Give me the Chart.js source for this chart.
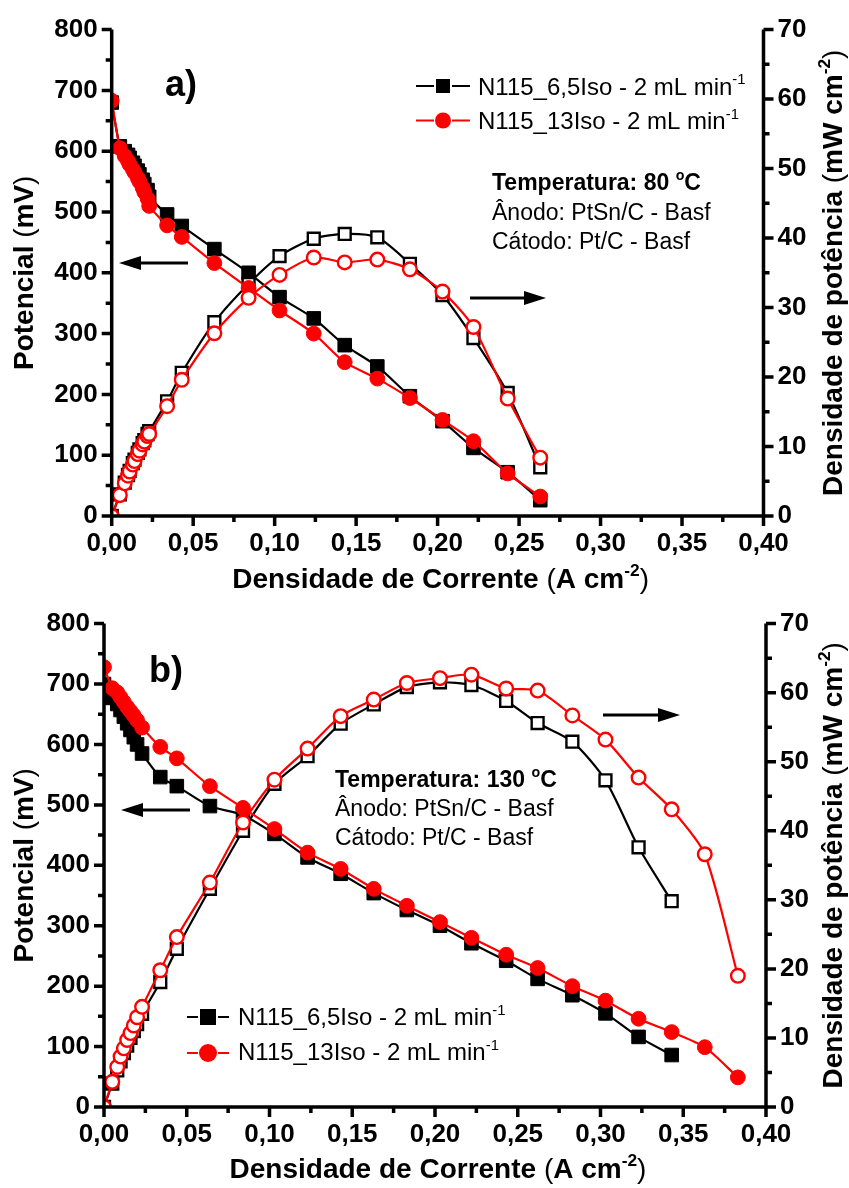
<!DOCTYPE html>
<html><head><meta charset="utf-8">
<script src="https://cdn.jsdelivr.net/npm/chart.js@4.4.1/dist/chart.umd.min.js"></script>
<style>
html,body{margin:0;padding:0;background:#fff;}
#wrap{position:relative;width:849px;height:1188px;overflow:hidden;}
.pane{position:absolute;left:0;width:849px;height:594px;}
</style></head><body>
<div id="wrap">
<div class="pane" style="top:0"><canvas id="ca" width="849" height="594"></canvas></div>
<div class="pane" style="top:594px"><canvas id="cb" width="849" height="594"></canvas></div>
</div>
<script>
// ---------- Panel a) 80 °C ----------
const currentA = [0, 0.005, 0.008, 0.010, 0.011, 0.013, 0.014, 0.016, 0.017, 0.019, 0.020, 0.022, 0.023,
  0.034, 0.043, 0.063, 0.084, 0.103, 0.124, 0.143, 0.163, 0.183, 0.203, 0.222, 0.243, 0.263];
const potA_6 = [680, 608, 600, 594, 589, 581, 576, 568, 562, 553, 546, 536, 525,
  496, 477, 439, 400, 360, 325, 281, 246, 197, 156, 112, 72, 26];
const powA_6 = [0, 3.1, 4.8, 5.9, 6.5, 7.6, 8.1, 9.1, 9.6, 10.5, 10.9, 11.8, 12.2,
  16.5, 20.6, 27.9, 33.4, 37.4, 39.9, 40.6, 40.1, 36.3, 31.8, 25.6, 17.7, 7.0];
const potA_13 = [683, 605, 592, 584, 578, 570, 565, 556, 550, 540, 533, 522, 510,
  478, 459, 416, 375, 338, 300, 253, 226, 194, 158, 123, 70, 32];
const powA_13 = [0, 3.0, 4.7, 5.8, 6.4, 7.4, 7.9, 8.9, 9.4, 10.3, 10.7, 11.5, 11.8,
  15.8, 19.6, 26.3, 31.4, 34.7, 37.2, 36.5, 36.9, 35.5, 32.3, 27.2, 16.9, 8.4];

// ---------- Panel b) 130 °C ----------
const currentB = [0, 0.005, 0.008, 0.010, 0.012, 0.014, 0.016, 0.018, 0.020, 0.023,
  0.034, 0.044, 0.064, 0.084, 0.103, 0.123, 0.143, 0.163, 0.183, 0.203, 0.222, 0.243,
  0.262, 0.283, 0.303, 0.323, 0.343, 0.363, 0.383];
const potB_6 = [700, 677, 667, 657, 646, 635, 624, 612, 600, 585,
  546, 531, 498, 483, 452, 413, 386, 354, 326, 300, 271, 242,
  212, 185, 155, 116, 86, null, null];
const powB_6 = [0, 3.4, 5.3, 6.6, 7.8, 8.9, 10.0, 11.0, 12.0, 13.5,
  18.1, 22.9, 31.6, 40.0, 46.8, 50.8, 55.5, 58.3, 60.8, 61.5, 61.1, 58.8,
  55.6, 52.9, 47.3, 37.6, 29.8, null, null];
const potB_13 = [728, 693, 686, 678, 670, 662, 655, 648, 640, 628,
  596, 577, 531, 495, 460, 421, 394, 361, 333, 306, 280, 252,
  230, 200, 176, 146, 124, 99, 49];
const powB_13 = [0, 3.65, 5.8, 7.3, 8.5, 9.7, 10.7, 11.8, 13.0, 14.5,
  19.8, 24.6, 32.5, 41.2, 47.4, 51.9, 56.6, 59.0, 61.4, 62.1, 62.6, 60.6,
  60.3, 56.7, 53.2, 47.7, 43.1, 36.6, 19.0];

// ---------- Axes / text ----------
const xTicks = {min: 0, max: 0.40, step: 0.05, minor: 0.025};
const yTicks = {min: 0, max: 800, step: 100, minor: 50};
const y1Ticks = {min: 0, max: 70, step: 10, minor: 5};
const seriesNames = [
  [{t: 'N115_6,5Iso - 2 mL min'}, {t: '-1', sup: true}],
  [{t: 'N115_13Iso - 2 mL min'}, {t: '-1', sup: true}]
];
const xTitle = [{t: 'Densidade de Corrente ', b: true}, {t: '('}, {t: 'A cm', b: true}, {t: '-2', b: true, sup: true}, {t: ')'}];
const yTitle = [{t: 'Potencial ', b: true}, {t: '('}, {t: 'mV', b: true}, {t: ')'}];
const y1Title = [{t: 'Densidade de potência ', b: true}, {t: '('}, {t: 'mW cm', b: true}, {t: '-2', b: true, sup: true}, {t: ')'}];

const FONT = '"Liberation Sans", Arial, Helvetica, sans-serif';
const RED = '#ff0000';

function richWidth(ctx, segs, size) {
  let w = 0;
  for (const s of segs) {
    const fs = s.sup ? size * 0.62 : size;
    ctx.font = (s.b ? 'bold ' : '') + fs + 'px ' + FONT;
    w += ctx.measureText(s.t).width;
  }
  return w;
}
function drawRich(ctx, segs, x, y, size, align) {
  const total = richWidth(ctx, segs, size);
  let cx = align === 'center' ? x - total / 2 : x;
  ctx.textAlign = 'left';
  ctx.textBaseline = 'alphabetic';
  for (const s of segs) {
    const fs = s.sup ? size * 0.62 : size;
    ctx.font = (s.b ? 'bold ' : '') + fs + 'px ' + FONT;
    ctx.fillText(s.t, cx, s.sup ? y - size * 0.42 : y);
    cx += ctx.measureText(s.t).width;
  }
}
function arrow(ctx, x1, y, x2) {
  const dir = Math.sign(x2 - x1);
  ctx.save();
  ctx.strokeStyle = '#000'; ctx.fillStyle = '#000'; ctx.lineWidth = 3;
  ctx.beginPath(); ctx.moveTo(x1, y); ctx.lineTo(x2 - dir * 14, y); ctx.stroke();
  ctx.beginPath(); ctx.moveTo(x2, y); ctx.lineTo(x2 - dir * 22, y - 7); ctx.lineTo(x2 - dir * 22, y + 7); ctx.closePath(); ctx.fill();
  ctx.restore();
}
function marker(ctx, kind, x, y, s) {
  ctx.save();
  if (kind === 'sq') { ctx.fillStyle = '#000'; ctx.fillRect(x - s / 2, y - s / 2, s, s); }
  else { ctx.fillStyle = RED; ctx.beginPath(); ctx.arc(x, y, s / 2, 0, Math.PI * 2); ctx.fill(); }
  ctx.restore();
}
function vals(t, step) {
  const out = [];
  const n = Math.round((t.max - t.min) / step);
  for (let i = 0; i <= n; i++) out.push(t.min + i * step);
  return out;
}

const framePlugin = {
  id: 'frame',
  afterDatasetsDraw(chart) {
    const ctx = chart.ctx, a = chart.chartArea;
    const sx = chart.scales.x, sy = chart.scales.y, sy1 = chart.scales.y1;
    ctx.save();
    ctx.strokeStyle = '#000'; ctx.lineCap = 'butt';
    ctx.lineWidth = 3.5;
    ctx.beginPath();
    ctx.moveTo(a.left, a.top); ctx.lineTo(a.left, a.bottom + 1.7);
    ctx.moveTo(a.left - 1.7, a.bottom); ctx.lineTo(a.right + 1.7, a.bottom);
    ctx.moveTo(a.right, a.bottom + 1.7); ctx.lineTo(a.right, a.top);
    ctx.stroke();
    ctx.lineWidth = 3.5;
    ctx.beginPath();
    vals(xTicks, xTicks.minor).forEach((v, i) => {
      const p = sx.getPixelForValue(v); const L = i % 2 === 0 ? 10 : 6;
      ctx.moveTo(p, a.bottom); ctx.lineTo(p, a.bottom + L);
    });
    vals(yTicks, yTicks.minor).forEach((v, i) => {
      const p = sy.getPixelForValue(v); const L = i % 2 === 0 ? 10 : 6;
      ctx.moveTo(a.left, p); ctx.lineTo(a.left - L, p);
    });
    vals(y1Ticks, y1Ticks.minor).forEach((v, i) => {
      const p = sy1.getPixelForValue(v); const L = i % 2 === 0 ? 10 : 6;
      ctx.moveTo(a.right, p); ctx.lineTo(a.right + L, p);
    });
    ctx.stroke();
    ctx.restore();
  },
  afterDraw(chart) {
    const ctx = chart.ctx, a = chart.chartArea, o = chart.options.plugins.frame;
    ctx.save();
    ctx.fillStyle = '#000';
    // axis titles
    drawRich(ctx, xTitle, (a.left + a.right) / 2 + 3, o.xTitleY, 28, 'center');
    ctx.save(); ctx.translate(33, (a.top + a.bottom) / 2); ctx.rotate(-Math.PI / 2);
    drawRich(ctx, yTitle, 0, 0, 28, 'center'); ctx.restore();
    ctx.save(); ctx.translate(842, (a.top + a.bottom) / 2); ctx.rotate(-Math.PI / 2);
    drawRich(ctx, y1Title, 0, 0, 28, 'center'); ctx.restore();
    // panel label
    ctx.font = 'bold 36px ' + FONT; ctx.textAlign = 'left'; ctx.textBaseline = 'alphabetic';
    ctx.fillText(o.tag, o.tagX, o.tagY);
    // legend
    const L = o.legend;
    ctx.lineWidth = 2.2;
    [0, 1].forEach(i => {
      const y = L.y[i];
      ctx.strokeStyle = i === 0 ? '#000' : RED;
      ctx.beginPath();
      ctx.moveTo(L.x0, y); ctx.lineTo(L.xm - L.gap, y);
      ctx.moveTo(L.xm + L.gap, y); ctx.lineTo(L.x1, y);
      ctx.stroke();
      marker(ctx, i === 0 ? 'sq' : 'ci', L.xm, y, i === 0 ? L.sq : L.ci);
      ctx.fillStyle = '#000';
      drawRich(ctx, seriesNames[i], L.tx, L.ty[i], 24, 'left');
    });
    // annotation
    const N = o.note;
    drawRich(ctx, [{t: 'Temperatura: ' + N.temp + ' ', b: true}, {t: 'o', b: true, sup: true}, {t: 'C', b: true}], N.x, N.y[0], 23, 'left');
    drawRich(ctx, [{t: 'Ânodo: PtSn/C - Basf'}], N.x, N.y[1], 23, 'left');
    drawRich(ctx, [{t: 'Cátodo: Pt/C - Basf'}], N.x, N.y[2], 23, 'left');
    // arrows
    o.arrows.forEach(ar => arrow(ctx, ar[0], ar[1], ar[2]));
    ctx.restore();
  }
};

function ds(label, xs, ys, axis, black, filled, order) {
  const col = black ? '#000' : RED;
  const data = [];
  xs.forEach((x, i) => { if (ys[i] !== null && ys[i] !== undefined) data.push({x: x, y: ys[i]}); });
  return {
    label, data, yAxisID: axis, order,
    borderColor: col, borderWidth: 2.2, fill: false,
    tension: 0.25,
    pointStyle: black ? 'rect' : 'circle',
    pointRadius: black ? (filled ? 9.6 : 8.4) : (filled ? 7.4 : 6.8),
    pointBackgroundColor: filled ? col : '#fff',
    pointBorderColor: col,
    pointBorderWidth: filled ? 1 : 2.4,
    clip: 0
  };
}

function tickFont() { return {family: FONT, size: 26, weight: 'bold'}; }

function makePanel(id, g, datasets, extra) {
  return new Chart(document.getElementById(id), {
    type: 'line',
    data: {datasets},
    options: {
      responsive: false, animation: false, events: [],
      layout: {padding: {top: g.top, left: 0, right: 0, bottom: 0}},
      plugins: {legend: {display: false}, tooltip: {enabled: false}, title: {display: false}, frame: extra},
      scales: {
        x: {
          type: 'linear', min: xTicks.min, max: xTicks.max,
          ticks: {stepSize: xTicks.step, color: '#000', font: tickFont(), padding: 12, maxRotation: 0, autoSkip: false,
            callback: v => v.toFixed(2).replace('.', ',')},
          grid: {display: false, drawTicks: false}, border: {display: false},
          afterFit: s => { s.height = g.H - g.bottom; }
        },
        y: {
          type: 'linear', position: 'left', min: yTicks.min, max: yTicks.max,
          ticks: {stepSize: yTicks.step, color: '#000', font: tickFont(), padding: 14},
          grid: {display: false, drawTicks: false}, border: {display: false},
          afterFit: s => { s.width = g.left; }
        },
        y1: {
          type: 'linear', position: 'right', min: y1Ticks.min, max: y1Ticks.max,
          ticks: {stepSize: y1Ticks.step, color: '#000', font: tickFont(), padding: 14},
          grid: {display: false, drawTicks: false}, border: {display: false},
          afterFit: s => { s.width = 849 - g.right; }
        }
      }
    },
    plugins: [framePlugin]
  });
}

makePanel('ca', {left: 111.7, right: 763.5, top: 25, bottom: 516, H: 594}, [
  ds('N115_6,5Iso potencial', currentA, potA_6, 'y', true, true, 4),
  ds('N115_6,5Iso potência', currentA, powA_6, 'y1', true, false, 3),
  ds('N115_13Iso potencial', currentA, potA_13, 'y', false, true, 2),
  ds('N115_13Iso potência', currentA, powA_13, 'y1', false, false, 1)
], {
  xTitleY: 588, tag: 'a)', tagX: 165, tagY: 96,
  legend: {x0: 416, x1: 470, xm: 443, gap: 9, sq: 14, ci: 16, y: [86, 120.5], tx: 478, ty: [94.5, 129]},
  note: {temp: '80', x: 492, y: [190, 220, 249]},
  arrows: [[188, 263, 119], [470, 298, 546]]
});

makePanel('cb', {left: 104, right: 766, top: 28, bottom: 513, H: 594}, [
  ds('N115_6,5Iso potencial', currentB, potB_6, 'y', true, true, 4),
  ds('N115_6,5Iso potência', currentB, powB_6, 'y1', true, false, 3),
  ds('N115_13Iso potencial', currentB, potB_13, 'y', false, true, 2),
  ds('N115_13Iso potência', currentB, powB_13, 'y1', false, false, 1)
], {
  xTitleY: 584, tag: 'b)', tagX: 149, tagY: 88,
  legend: {x0: 187, x1: 229, xm: 208, gap: 10, sq: 16, ci: 18, y: [423, 459], tx: 238, ty: [431, 466]},
  note: {temp: '130', x: 335, y: [193, 222, 251]},
  arrows: [[190, 216, 121], [603, 121, 680]]
});
</script>
</body></html>
